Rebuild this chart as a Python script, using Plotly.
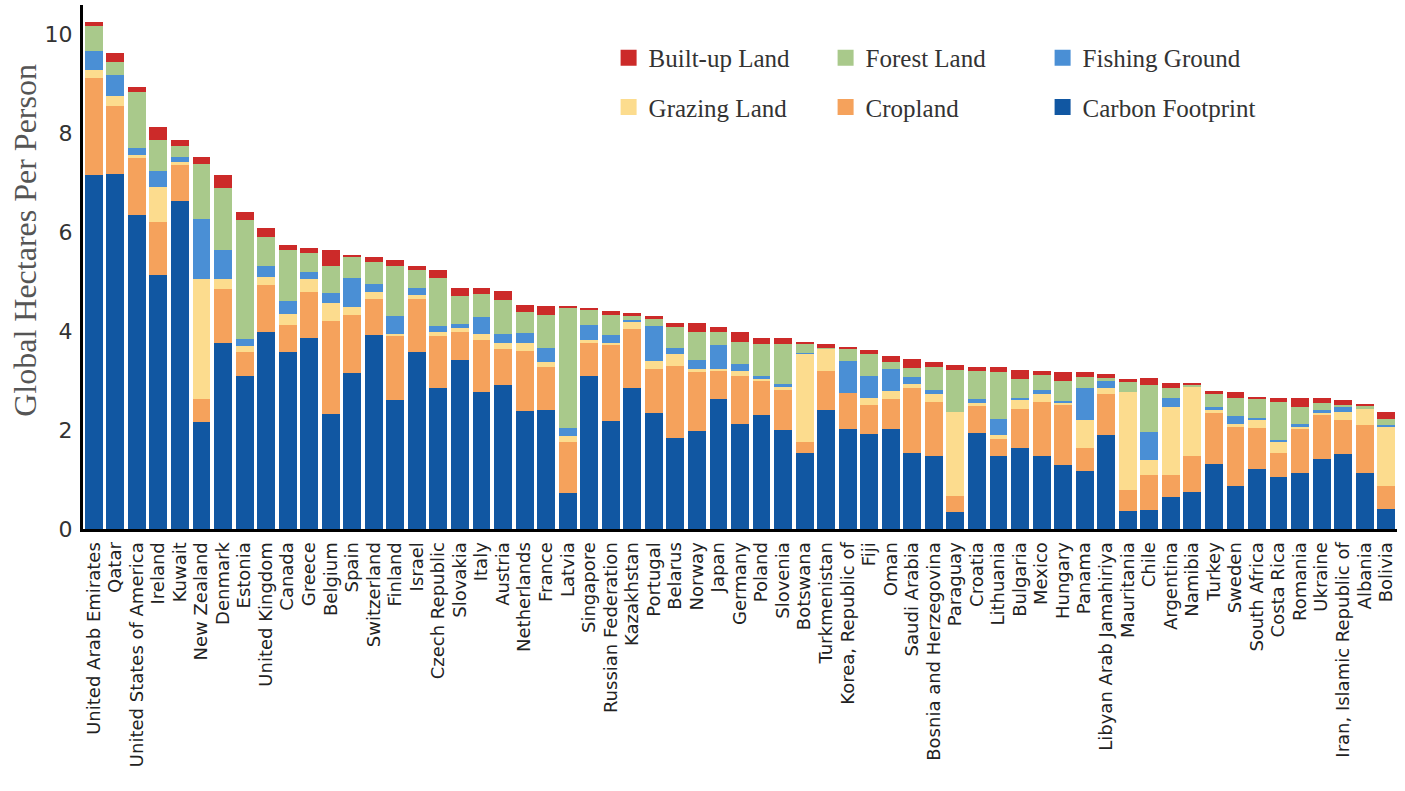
import plotly.graph_objects as go

countries = [
    "United Arab Emirates", "Qatar", "United States of America", "Ireland", "Kuwait",
    "New Zealand", "Denmark", "Estonia", "United Kingdom", "Canada", "Greece", "Belgium",
    "Spain", "Switzerland", "Finland", "Israel", "Czech Republic", "Slovakia", "Italy",
    "Austria", "Netherlands", "France", "Latvia", "Singapore", "Russian Federation",
    "Kazakhstan", "Portugal", "Belarus", "Norway", "Japan", "Germany", "Poland", "Slovenia",
    "Botswana", "Turkmenistan", "Korea, Republic of", "Fiji", "Oman", "Saudi Arabia",
    "Bosnia and Herzegovina", "Paraguay", "Croatia", "Lithuania", "Bulgaria", "Mexico",
    "Hungary", "Panama", "Libyan Arab Jamahiriya", "Mauritania", "Chile", "Argentina",
    "Namibia", "Turkey", "Sweden", "South Africa", "Costa Rica", "Romania", "Ukraine",
    "Iran, Islamic Republic of", "Albania", "Bolivia",
]

carbon = [7.16, 7.19, 6.35, 5.13, 6.63, 2.16, 3.76, 3.10, 3.98, 3.58, 3.86, 2.32, 3.15, 3.93,
          2.61, 3.59, 2.86, 3.42, 2.78, 2.92, 2.38, 2.41, 0.73, 3.10, 2.18, 2.86, 2.35, 1.85,
          1.98, 2.62, 2.12, 2.31, 2.00, 1.53, 2.40, 2.03, 1.93, 2.03, 1.54, 1.47, 0.34, 1.95,
          1.47, 1.64, 1.47, 1.29, 1.17, 1.90, 0.36, 0.39, 0.65, 0.74, 1.31, 0.87, 1.22, 1.06,
          1.14, 1.41, 1.51, 1.14, 0.41]
cropland = [1.96, 1.36, 1.15, 1.08, 0.73, 0.47, 1.10, 0.48, 0.95, 0.54, 0.94, 1.88, 1.17, 0.73,
            1.29, 1.07, 1.05, 0.57, 1.04, 0.72, 1.23, 0.86, 1.02, 0.67, 1.56, 1.18, 0.88, 1.45,
            1.21, 0.58, 0.98, 0.69, 0.83, 0.22, 0.79, 0.73, 0.58, 0.59, 1.32, 1.09, 0.32, 0.54,
            0.36, 0.78, 1.09, 1.23, 0.47, 0.83, 0.43, 0.71, 0.45, 0.73, 1.03, 1.20, 0.82, 0.47,
            0.88, 0.90, 0.70, 0.96, 0.46]
grazing = [0.17, 0.21, 0.07, 0.71, 0.07, 2.43, 0.20, 0.13, 0.17, 0.23, 0.26, 0.37, 0.18, 0.14,
           0.05, 0.08, 0.08, 0.07, 0.13, 0.12, 0.15, 0.10, 0.13, 0.05, 0.03, 0.16, 0.17, 0.25,
           0.04, 0.03, 0.09, 0.03, 0.04, 1.80, 0.46, 0.00, 0.15, 0.17, 0.08, 0.17, 1.71, 0.05,
           0.08, 0.20, 0.17, 0.04, 0.56, 0.13, 1.99, 0.29, 1.36, 1.41, 0.07, 0.05, 0.17, 0.24,
           0.05, 0.04, 0.15, 0.33, 1.20]
fishing = [0.37, 0.43, 0.13, 0.32, 0.10, 1.22, 0.59, 0.14, 0.23, 0.27, 0.14, 0.21, 0.57, 0.16,
           0.35, 0.13, 0.12, 0.09, 0.33, 0.19, 0.21, 0.30, 0.17, 0.31, 0.16, 0.03, 0.71, 0.12,
           0.19, 0.49, 0.14, 0.07, 0.07, 0.02, 0.00, 0.64, 0.44, 0.44, 0.14, 0.08, 0.00, 0.08,
           0.31, 0.04, 0.08, 0.03, 0.66, 0.14, 0.00, 0.58, 0.18, 0.00, 0.05, 0.17, 0.04, 0.04,
           0.05, 0.06, 0.10, 0.00, 0.03]
forest = [0.51, 0.25, 1.15, 0.63, 0.22, 1.10, 1.24, 2.40, 0.57, 1.03, 0.39, 0.54, 0.43, 0.45,
          1.02, 0.36, 0.96, 0.57, 0.48, 0.69, 0.41, 0.65, 2.44, 0.32, 0.40, 0.08, 0.14, 0.41,
          0.56, 0.26, 0.46, 0.64, 0.80, 0.17, 0.02, 0.24, 0.44, 0.14, 0.17, 0.46, 0.84, 0.57,
          0.95, 0.37, 0.30, 0.41, 0.22, 0.06, 0.20, 0.94, 0.21, 0.03, 0.29, 0.35, 0.37, 0.75,
          0.34, 0.13, 0.05, 0.06, 0.12]
builtup = [0.08, 0.19, 0.10, 0.27, 0.12, 0.15, 0.27, 0.17, 0.18, 0.09, 0.09, 0.33, 0.05, 0.10,
           0.13, 0.09, 0.16, 0.15, 0.11, 0.18, 0.16, 0.19, 0.03, 0.02, 0.07, 0.05, 0.06, 0.08,
           0.18, 0.11, 0.20, 0.12, 0.12, 0.05, 0.08, 0.05, 0.08, 0.13, 0.19, 0.10, 0.11, 0.08,
           0.10, 0.18, 0.08, 0.17, 0.09, 0.07, 0.05, 0.14, 0.11, 0.05, 0.04, 0.14, 0.06, 0.08,
           0.18, 0.10, 0.09, 0.03, 0.15]

y_ticks = [0, 2, 4, 6, 8, 10]
y_title = "Global Hectares Per Person"

series = [
    ("Carbon Footprint", carbon, "#1157a2", "legend2", 3),
    ("Cropland", cropland, "#f5a25c", "legend2", 2),
    ("Grazing Land", grazing, "#fcdc8e", "legend2", 1),
    ("Fishing Ground", fishing, "#4a8fd5", "legend", 3),
    ("Forest Land", forest, "#a9c98b", "legend", 2),
    ("Built-up Land", builtup, "#cc2a29", "legend", 1),
]

fig = go.Figure()
for name, vals, color, leg, rank in series:
    fig.add_trace(go.Bar(
        x=countries, y=vals, name=name, marker=dict(color=color, line=dict(width=0)),
        showlegend=False, legendgroup=name,
    ))
    # legend swatch (larger square marker than the default bar swatch)
    fig.add_trace(go.Scatter(
        x=[None], y=[None], mode="markers", name=name, legendgroup=name,
        marker=dict(symbol="square", size=16, color=color),
        legend=leg, legendrank=rank, showlegend=True, hoverinfo="skip",
    ))

legend_common = dict(
    orientation="h", xanchor="left", yanchor="middle", x=0.4,
    font=dict(family="Liberation Serif", size=25, color="#333333"),
    bgcolor="rgba(0,0,0,0)", entrywidth=172, entrywidthmode="pixels",
    traceorder="normal",
)

fig.update_layout(
    width=1405, height=791,
    margin=dict(l=83, r=8, t=5, b=262),
    barmode="stack", bargap=0.17,
    plot_bgcolor="white", paper_bgcolor="white",
    showlegend=True,
    legend=dict(legend_common, y=0.899),
    legend2=dict(legend_common, y=0.805),
    xaxis=dict(
        range=[-0.5, len(countries) - 0.5], showline=True, linecolor="black", linewidth=3,
        showgrid=False, ticks="", tickangle=-90,
        tickmode="array", tickvals=countries, ticktext=countries,
        tickfont=dict(family="DejaVu Sans", size=18, color="#222222"),
        ticklabelstandoff=3,
    ),
    yaxis=dict(
        range=[0, 10.6], tickvals=y_ticks, showline=True, linecolor="black", linewidth=3,
        showgrid=False, zeroline=False, ticks="",
        tickfont=dict(family="DejaVu Sans", size=22, color="#333333"),
        ticklabelstandoff=3,
    ),
    annotations=[dict(
        text=y_title, textangle=-90, xref="paper", yref="paper", x=0, y=0.55,
        xanchor="center", yanchor="middle", xshift=-58, showarrow=False,
        font=dict(family="Liberation Serif", size=32, color="#555555"),
    )],
)

fig.write_html(
    "out.html",
    config={"displayModeBar": False},
    post_script="document.body.style.margin='0';document.body.style.overflow='hidden';",
)
